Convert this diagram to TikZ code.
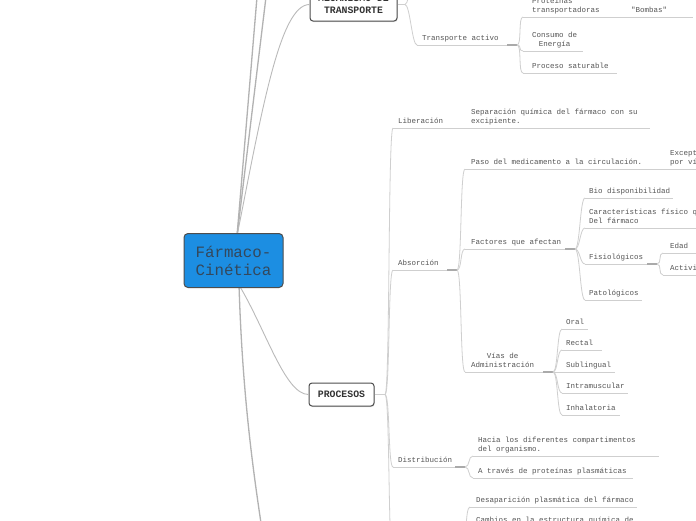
\documentclass[tikz,border=0pt]{standalone}
\usepackage{fontspec}
\setmainfont{Liberation Sans}
\newfontfamily\mmfont{Liberation Mono}
\usetikzlibrary{shadows}
\definecolor{txt}{HTML}{555555}
\definecolor{lnk}{HTML}{CFCFCF}
\definecolor{knob}{HTML}{AAAAAA}
\definecolor{trunk}{HTML}{B2B2B2}
\definecolor{cblue}{HTML}{1C8EE2}
\definecolor{ctext}{HTML}{34485C}
\definecolor{bdr}{HTML}{4D4D4D}
\tikzset{
  mmtext/.style={font=\mmfont\fontsize{7.5}{9}\selectfont, text=txt, inner sep=0pt, anchor=base west},
  uline/.style={draw=lnk, line width=0.8pt},
  link/.style={draw=lnk, line width=0.8pt},
  knobline/.style={draw=knob, line width=1.3pt},
  rootlink/.style={draw=trunk, line width=1.3pt},
  sublink/.style={draw=lnk!90!black, line width=0.9pt},
  central/.style={draw=bdr, line width=1pt, fill=cblue, rounded corners=4pt,
    minimum width=99pt, minimum height=54pt, inner sep=0pt, align=center,
    font=\mmfont\fontsize{15.8}{18}\selectfont, text=ctext},
  mainbox/.style={draw=bdr, line width=1pt, fill=white, rounded corners=3pt,
    inner sep=0pt, align=center, text=black!80,
    font=\mmfont\bfseries\fontsize{9.8}{12}\selectfont,
    drop shadow={shadow xshift=0.6pt, shadow yshift=-1pt, opacity=0.25}}
}
\newcommand\mmtopic[6]{%
  \coordinate (#1-s) at (#2,#4);
  \coordinate (#1-e) at (#3,#4);
  \draw[uline] (#1-s) -- (#1-e);
  \node[mmtext] (#1) at (#5,{#4-5}) {#6};}
\newcommand\mmlink[2]{\draw[link] (#1) .. controls +(5,0) and +(-5,0) .. (#2);}
\newcommand\mmtwo[2]{\begin{tabular}[b]{@{}l@{}}#1\\#2\end{tabular}}
\newcommand\mmtwoc[2]{\begin{tabular}[b]{@{}c@{}}#1\\#2\end{tabular}}
\begin{document}
\begin{tikzpicture}[x=1pt,y=-1pt]
\useasboundingbox (0,0) rectangle (696,520);
\clip (0,0) rectangle (696,520);
\fill[white] (0,0) rectangle (696,520);

% ---------- root connectors ----------
\coordinate (fc-t) at (237,236);
\coordinate (fc-b) at (239,285);
\coordinate (off1) at (257,-3);
\coordinate (off2) at (266,-3);
\coordinate (off3) at (261,523);
\node[mainbox, minimum width=87pt, minimum height=33pt] (mt) at (353.5,4.5) {MECANISMO DE\\TRANSPORTE};
\node[mainbox, minimum width=65pt, minimum height=23pt] (pr) at (341.5,394.5) {PROCESOS};
\draw[rootlink] (fc-t) -- (off1);
\draw[rootlink] (fc-t) -- (off2);
\draw[sublink] (fc-t) .. controls (262,110) and (280,4.5) .. (mt.west);
\draw[sublink] (fc-b) .. controls (266,330) and (285,394.5) .. (pr.west);
\draw[rootlink] (fc-b) .. controls (242,380) and (250,450) .. (off3);
\node[central] (fc) at (233.5,260.5) {Fármaco-\\Cinética};

% ---------- MECANISMO DE TRANSPORTE ----------
\coordinate (mt-j) at (405,4.5);
\draw[link] (mt.east) -- (mt-j);
\coordinate (mt-up) at (417,-40);
\mmlink{mt-j}{mt-up}
\mmtopic{ta}{417}{507}{45}{422}{Transporte activo}
\coordinate (ta-k) at (517,45);
\draw[knobline] (ta-e) -- (ta-k);
\mmlink{mt-j}{ta-s}
\mmtopic{prot}{523}{612}{17}{532}{\mmtwo{Proteínas}{transportadoras}}
\mmtopic{bomb}{622}{693}{17}{631}{"Bombas"}
\draw[link] (prot-e) -- (bomb-s);
\mmtopic{cons}{523}{583}{51}{532}{\mmtwoc{Consumo de}{Energía}}
\mmtopic{proc}{523}{617}{73}{532}{Proceso saturable}
\mmlink{ta-k}{prot-s}
\mmlink{ta-k}{cons-s}
\mmlink{ta-k}{proc-s}

% ---------- PROCESOS ----------
\coordinate (pr-j) at (385,394.5);
\draw[link, line width=1.1pt] (pr.east) -- (pr-j);

\mmtopic{lib}{393}{463}{128}{398}{Liberación}
\mmtopic{sep}{467}{650}{128}{471}{\mmtwo{Separación química del fármaco con su}{excipiente.}}
\draw[link] (lib-e) -- (sep-s);
\mmlink{pr-j}{lib-s}

\mmtopic{abs}{393}{447}{270}{398}{Absorción}
\coordinate (abs-k) at (457,270);
\draw[knobline] (abs-e) -- (abs-k);
\mmlink{pr-j}{abs-s}

\mmtopic{paso}{465}{662}{169}{471}{Paso del medicamento a la circulación.}
\mmtopic{exc}{666}{720}{169}{670}{\mmtwo{Excepto}{por vía}}
\draw[link] (paso-e) -- (exc-s);
\mmlink{abs-k}{paso-s}

\mmtopic{fact}{465}{565}{249}{471}{Factores que afectan}
\coordinate (fact-k) at (575,249);
\draw[knobline] (fact-e) -- (fact-k);
\mmlink{abs-k}{fact-s}
\mmtopic{bio}{585}{673}{198}{589}{Bio disponibilidad}
\mmtopic{car}{585}{720}{228}{589}{\mmtwo{Características físico químicas}{Del fármaco}}
\mmtopic{fis}{585}{647}{264}{589}{Fisiológicos}
\coordinate (fis-k) at (657,264);
\draw[knobline] (fis-e) -- (fis-k);
\mmtopic{pat}{585}{642}{300}{589}{Patológicos}
\mmlink{fact-k}{bio-s}
\mmlink{fact-k}{car-s}
\mmlink{fact-k}{fis-s}
\mmlink{fact-k}{pat-s}
\mmtopic{edad}{663}{720}{253}{670}{Edad}
\mmtopic{act}{663}{720}{275}{670}{Actividad}
\mmlink{fis-k}{edad-s}
\mmlink{fis-k}{act-s}

\mmtopic{vias}{465}{543}{372}{471}{\mmtwoc{Vías de}{Administración}}
\coordinate (vias-k) at (553,372);
\draw[knobline] (vias-e) -- (vias-k);
\mmlink{abs-k}{vias-s}
\mmtopic{oral}{562}{588}{329}{566}{Oral}
\mmtopic{rect}{562}{602}{350}{566}{Rectal}
\mmtopic{subl}{562}{615}{372}{566}{Sublingual}
\mmtopic{intra}{562}{628}{393}{566}{Intramuscular}
\mmtopic{inha}{562}{620}{415}{566}{Inhalatoria}
\mmlink{vias-k}{oral-s}
\mmlink{vias-k}{rect-s}
\mmlink{vias-k}{subl-s}
\mmlink{vias-k}{intra-s}
\mmlink{vias-k}{inha-s}

\mmtopic{dist}{393}{455}{467}{398}{Distribución}
\coordinate (dist-k) at (465,467);
\draw[knobline] (dist-e) -- (dist-k);
\mmlink{pr-j}{dist-s}
\mmtopic{hacia}{473}{659}{456}{478}{\mmtwo{Hacia los diferentes compartimentos}{del organismo.}}
\mmtopic{atrav}{473}{633}{478}{478}{A través de proteínas plasmáticas}
\mmlink{dist-k}{hacia-s}
\mmlink{dist-k}{atrav-s}

% off-canvas branch below
\coordinate (met-s) at (393,560);
\coordinate (met-k) at (462,545);
\mmlink{pr-j}{met-s}
\mmtopic{desap}{470}{637}{507}{476}{Desaparición plasmática del fármaco}
\mmtopic{camb}{470}{720}{527}{476}{Cambios en la estructura química de}
\mmlink{met-k}{desap-s}
\mmlink{met-k}{camb-s}
\end{tikzpicture}
\end{document}
